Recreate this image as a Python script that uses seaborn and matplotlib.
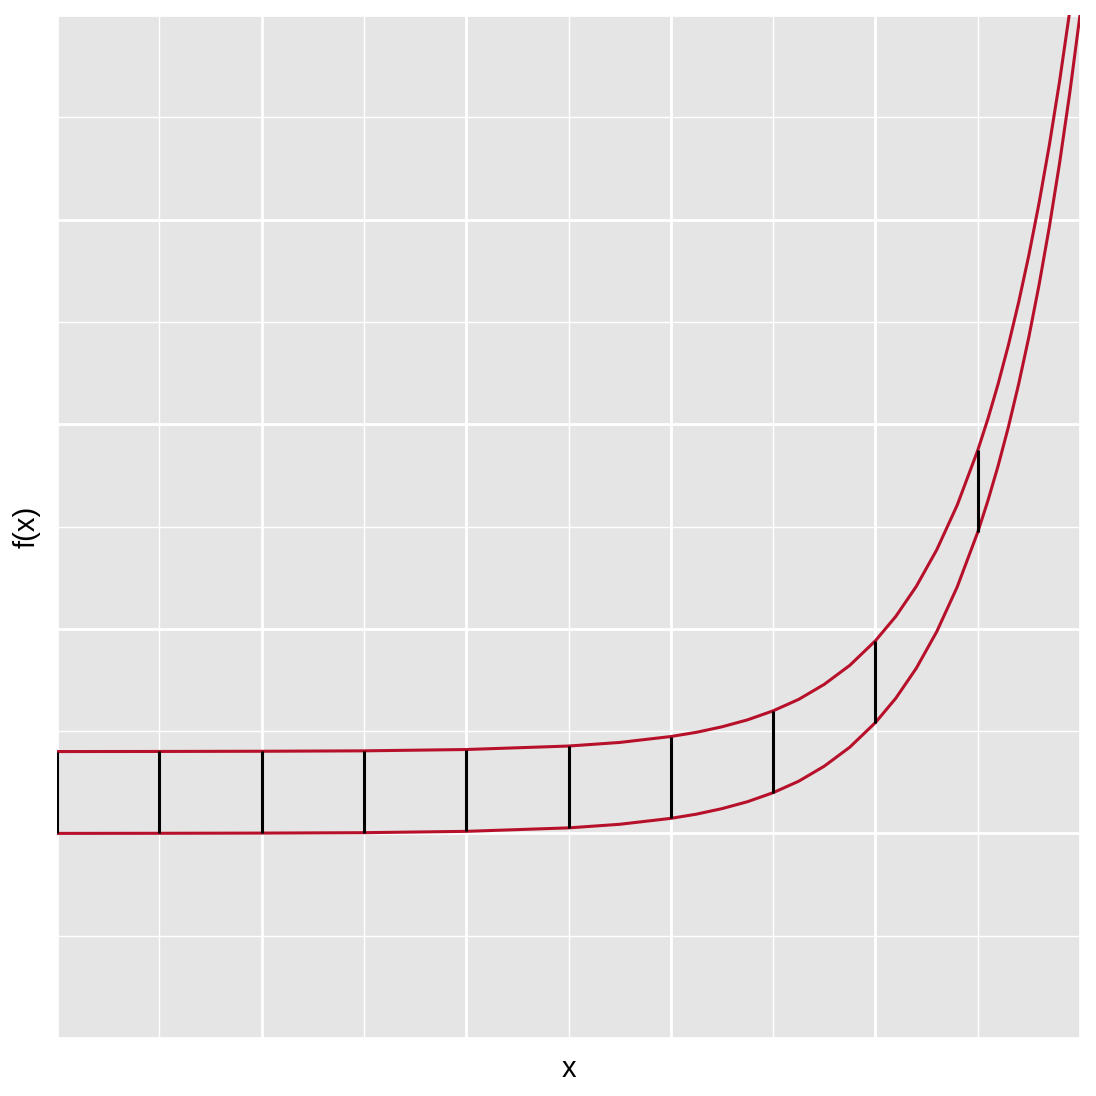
import matplotlib
matplotlib.use('Agg')
import numpy as np
import pandas as pd
import seaborn as sns
import matplotlib.pyplot as plt
from matplotlib.ticker import MultipleLocator

# Values (y in grid units, baseline at 0)
x_vals = [0, 1, 2, 3, 4, 5, 5.5, 6, 6.25, 6.5, 6.75, 7, 7.25, 7.5, 7.75, 8,
          8.2, 8.4, 8.6, 8.8, 9, 9.1, 9.2, 9.3, 9.4, 9.5, 9.6, 9.7, 9.8, 9.9, 10]
lower_vals = [0.0, 0.001, 0.003, 0.007, 0.020, 0.054, 0.089, 0.147, 0.188, 0.242,
              0.310, 0.398, 0.510, 0.657, 0.843, 1.083, 1.322, 1.615, 1.973, 2.410,
              2.943, 3.253, 3.595, 3.973, 4.391, 4.852, 5.363, 5.927, 6.550, 7.239, 8.0]
upper_vals = [0.800, 0.801, 0.803, 0.807, 0.820, 0.854, 0.889, 0.947, 0.988, 1.042,
              1.110, 1.198, 1.310, 1.457, 1.643, 1.883, 2.122, 2.415, 2.773, 3.210,
              3.743, 4.053, 4.395, 4.773, 5.191, 5.652, 6.163, 6.727, 7.350, 8.039, 8.8]

# vertical segments at the integer x positions
seg_x = [0, 1, 2, 3, 4, 5, 6, 7, 8, 9]
seg_lo = [0.0, 0.001, 0.003, 0.007, 0.020, 0.054, 0.147, 0.398, 1.083, 2.943]
seg_hi = [0.800, 0.801, 0.803, 0.807, 0.820, 0.854, 0.947, 1.198, 1.883, 3.743]

df = pd.DataFrame({'x': x_vals * 2,
                   'y': lower_vals + upper_vals,
                   'curve': ['lower'] * len(x_vals) + ['upper'] * len(x_vals)})

sns.set_theme(style='darkgrid', rc={'axes.facecolor': '#E5E5E5',
                                    'grid.color': 'white'})
plt.rcParams['font.family'] = ['Liberation Sans', 'DejaVu Sans']

fig = plt.figure(figsize=(10.96, 10.96), dpi=100)
ax = fig.add_axes([57 / 1096, 58 / 1096, 1023 / 1096, 1023 / 1096])

red = '#B7102B'
sns.lineplot(data=df, x='x', y='y', units='curve', estimator=None,
             color=red, linewidth=2.2, ax=ax, legend=False, sort=False)
ax.vlines(seg_x, seg_lo, seg_hi, colors='black', linewidth=2.2, zorder=3)

ax.set_xlim(0, 10)
ax.set_ylim(-2, 8)
ax.xaxis.set_major_locator(MultipleLocator(2))
ax.xaxis.set_minor_locator(MultipleLocator(1))
ax.yaxis.set_major_locator(MultipleLocator(2))
ax.yaxis.set_minor_locator(MultipleLocator(1))
ax.grid(which='major', color='white', linewidth=2.0)
ax.grid(which='minor', color='white', linewidth=1.0)
ax.tick_params(which='both', length=0, labelbottom=False, labelleft=False)
for s in ax.spines.values():
    s.set_visible(False)

ax.set_xlabel('x', fontsize=21, labelpad=12, color='black')
ax.set_ylabel('f(x)', fontsize=21, labelpad=12, color='black')

fig.savefig('out.png', dpi=100)
